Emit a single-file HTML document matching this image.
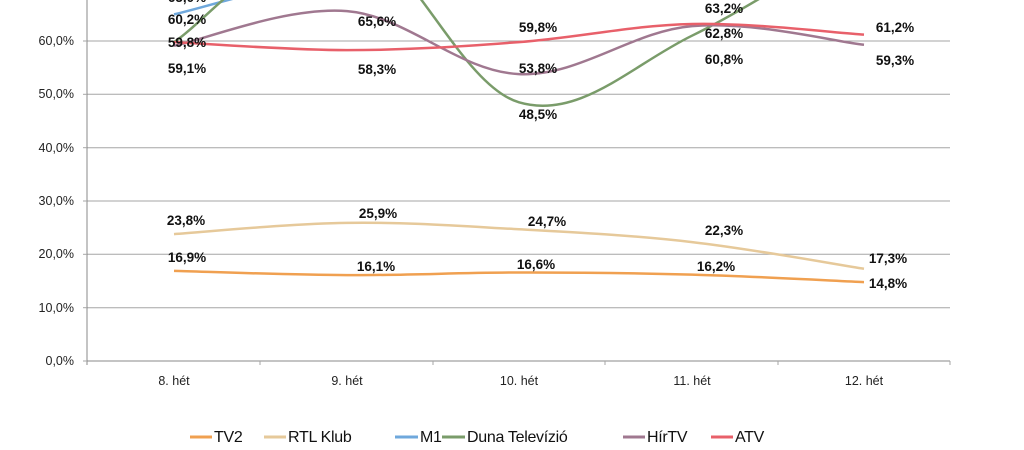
<!DOCTYPE html>
<html><head><meta charset="utf-8"><style>
html,body{margin:0;padding:0;background:#fff;}
svg{display:block;font-family:"Liberation Sans",sans-serif;}
.y{font-size:12.5px;fill:#222;text-anchor:end;}
.x{font-size:12.5px;fill:#222;text-anchor:middle;}
.d{font-size:13.5px;font-weight:bold;fill:#111;text-anchor:middle;}
.l{font-size:16px;fill:#111;letter-spacing:-0.3px;}
</style></head><body>
<svg id="s" width="1024" height="450" viewBox="0 0 1024 450">
<g stroke="#a6a6a6" stroke-width="1">
<line x1="87" x2="950" y1="41" y2="41"/><line x1="87" x2="950" y1="94.3" y2="94.3"/>
<line x1="87" x2="950" y1="147.7" y2="147.7"/><line x1="87" x2="950" y1="201" y2="201"/>
<line x1="87" x2="950" y1="254.3" y2="254.3"/><line x1="87" x2="950" y1="307.7" y2="307.7"/>
<line x1="87" x2="950" y1="361" y2="361" stroke="#888"/><line x1="87" x2="87" y1="0" y2="365" stroke="#888"/>
<line x1="83" x2="87" y1="41" y2="41"/><line x1="83" x2="87" y1="94.3" y2="94.3"/><line x1="83" x2="87" y1="147.7" y2="147.7"/><line x1="83" x2="87" y1="201" y2="201"/><line x1="83" x2="87" y1="254.3" y2="254.3"/><line x1="83" x2="87" y1="307.7" y2="307.7"/><line x1="83" x2="87" y1="361" y2="361"/>
<line x1="260" x2="260" y1="361" y2="365"/><line x1="433" x2="433" y1="361" y2="365"/><line x1="605" x2="605" y1="361" y2="365"/><line x1="778" x2="778" y1="361" y2="365"/><line x1="950" x2="950" y1="361" y2="365"/>
</g>
<g class="y"><text x="74" y="45">60,0%</text><text x="74" y="98">50,0%</text><text x="74" y="152">40,0%</text><text x="74" y="205">30,0%</text><text x="74" y="258">20,0%</text><text x="74" y="312">10,0%</text><text x="74" y="365">0,0%</text></g>
<g class="x"><text x="174" y="385">8. hét</text><text x="347" y="385">9. hét</text><text x="519" y="385">10. hét</text><text x="692" y="385">11. hét</text><text x="864" y="385">12. hét</text></g>
<g id="series" fill="none" stroke-width="2.5"></g>
<g class="d">
<text x="187" y="2">65,0%</text>
<text x="187" y="24">60,2%</text><text x="187" y="47">59,8%</text><text x="187" y="73">59,1%</text>
<text x="377" y="26">65,6%</text><text x="377" y="74">58,3%</text>
<text x="538" y="32">59,8%</text><text x="538" y="73">53,8%</text><text x="538" y="119">48,5%</text>
<text x="724" y="13">63,2%</text><text x="724" y="38">62,8%</text><text x="724" y="64">60,8%</text>
<text x="895" y="32">61,2%</text><text x="895" y="65">59,3%</text>
<text x="186" y="225">23,8%</text><text x="378" y="218">25,9%</text><text x="547" y="226">24,7%</text><text x="724" y="235">22,3%</text><text x="888" y="263">17,3%</text>
<text x="187" y="262">16,9%</text><text x="376" y="271">16,1%</text><text x="536" y="269">16,6%</text><text x="716" y="271">16,2%</text><text x="888" y="288">14,8%</text>
</g>
<g stroke-width="3">
<line x1="190" x2="212" y1="437" y2="437" stroke="#f0a050"/>
<line x1="264" x2="286" y1="437" y2="437" stroke="#e6c99a"/>
<line x1="395" x2="418" y1="437" y2="437" stroke="#6fa8dc"/>
<line x1="442" x2="465" y1="437" y2="437" stroke="#7a9c6a"/>
<line x1="623" x2="645" y1="437" y2="437" stroke="#a07890"/>
<line x1="711" x2="733" y1="437" y2="437" stroke="#e8606a"/>
</g>
<g class="l"><text x="214" y="442">TV2</text><text x="288" y="442">RTL Klub</text><text x="420" y="442">M1</text><text x="467" y="442">Duna Televízió</text><text x="647" y="442">HírTV</text><text x="735" y="442">ATV</text></g>
</svg>
<script>
var X=[174,347,519,692,864];
function Y(v){return 361-v*5.333;}
var S=[["#6fa8dc",[65,72,68.5,72,76]],["#7a9c6a",[59.8,80,48.5,61,80]],["#a07890",[59.1,65.6,53.8,62.8,59.3]],["#e8606a",[59.8,58.3,59.8,63.2,61.2]],["#e6c99a",[23.8,25.9,24.7,22.3,17.3]],["#f0a050",[16.9,16.1,16.6,16.2,14.8]]];
var g=document.getElementById("series"),t=0.35;
S.forEach(function(s){var p=X.map(function(x,i){return [x,Y(s[1][i])];});
var d="M"+p[0][0]+","+p[0][1];
for(var i=0;i<p.length-1;i++){var a=p[Math.max(i-1,0)],b=p[i],c=p[i+1],e=p[Math.min(i+2,p.length-1)];
d+=" C"+(b[0]+(c[0]-a[0])*t/2)+","+(b[1]+(c[1]-a[1])*t/2)+" "+(c[0]-(e[0]-b[0])*t/2)+","+(c[1]-(e[1]-b[1])*t/2)+" "+c[0]+","+c[1];}
var el=document.createElementNS("http://www.w3.org/2000/svg","path");el.setAttribute("d",d);el.setAttribute("stroke",s[0]);g.appendChild(el);});
</script>
</body></html>
